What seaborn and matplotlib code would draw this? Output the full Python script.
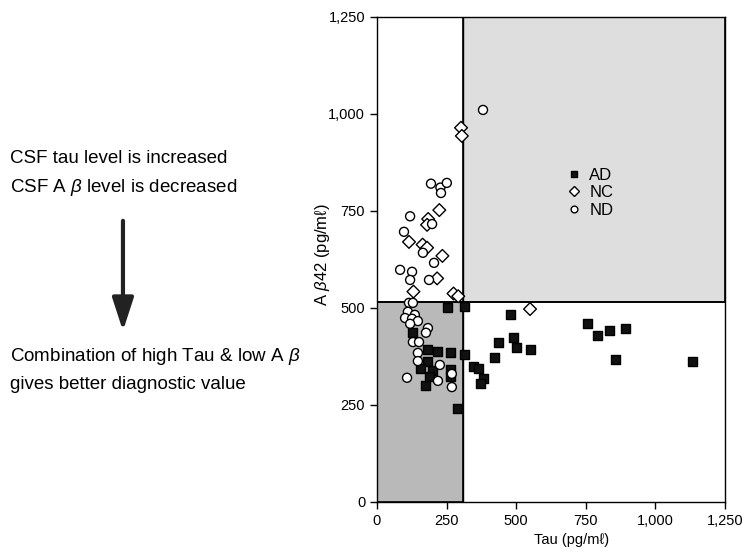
import matplotlib
matplotlib.use("Agg")
import matplotlib.pyplot as plt
from matplotlib.patches import Rectangle
import seaborn as sns
import pandas as pd

# ---- data (Tau pg/ml, Abeta42 pg/ml) ----
ad_tau = [255, 316, 126, 180, 216, 265, 316, 183, 155, 198, 265, 190, 265, 176, 291,
          481, 438, 489, 503, 553, 424, 348, 366, 384, 373, 758, 794, 837, 894, 858, 1135]
ad_ab = [500, 503, 436, 392, 387, 385, 381, 363, 345, 338, 342, 322, 322, 299, 242,
         482, 412, 425, 399, 394, 371, 350, 345, 317, 304, 459, 428, 441, 446, 366, 363]

nc_tau = [302, 305, 224, 184, 180, 115, 164, 180, 235, 216, 131, 275, 292, 550]
nc_ab = [964, 943, 752, 729, 714, 670, 663, 655, 634, 576, 542, 537, 530, 497]

nd_tau = [381, 194, 228, 251, 230, 119, 198, 97, 165, 205, 83, 126, 119, 187,
          115, 129, 111, 136, 101, 126, 147, 119, 183, 176, 129, 151, 147, 147,
          226, 108, 219, 269, 269]
nd_ab = [1010, 820, 810, 822, 796, 736, 716, 696, 642, 616, 598, 593, 572, 572,
         513, 513, 490, 482, 474, 472, 466, 459, 448, 436, 412, 412, 384, 363,
         353, 320, 312, 296, 330]

groups = ["AD", "NC", "ND"]
tau_cut = 310
ab_cut = 515
ticks = [0, 250, 500, 750, 1000, 1250]
tick_labels = ["0", "250", "500", "750", "1,000", "1,250"]

df = pd.DataFrame({
    "tau": ad_tau + nc_tau + nd_tau,
    "ab": ad_ab + nc_ab + nd_ab,
    "group": ["AD"] * len(ad_tau) + ["NC"] * len(nc_tau) + ["ND"] * len(nd_tau),
})

sns.set_style("ticks")
plt.rcParams["font.family"] = ["Liberation Sans", "DejaVu Sans"]
plt.rcParams["mathtext.fontset"] = "custom"
plt.rcParams["mathtext.rm"] = "Liberation Sans"
plt.rcParams["mathtext.it"] = "Liberation Sans:italic"
plt.rcParams["text.color"] = "black"
plt.rcParams["axes.labelcolor"] = "black"

fig = plt.figure(figsize=(7.48, 5.59), dpi=100)
ax = fig.add_axes([0.504, 0.102, 0.465, 0.868])

ax.set_xlim(0, 1250)
ax.set_ylim(0, 1250)

# shaded quadrants
ax.add_patch(Rectangle((0, 0), tau_cut, ab_cut, facecolor="#b9b9b9",
                       edgecolor="black", linewidth=1.2, zorder=0))
ax.add_patch(Rectangle((tau_cut, ab_cut), 1250 - tau_cut, 1250 - ab_cut,
                       facecolor="#dedede", edgecolor="black", linewidth=1.2, zorder=0))
ax.axhline(ab_cut, color="black", linewidth=1.2, zorder=1)
ax.axvline(tau_cut, color="black", linewidth=1.0, zorder=1)

sns.scatterplot(data=df, x="tau", y="ab", hue="group", style="group",
                hue_order=groups, style_order=groups,
                markers={"AD": "s", "NC": "D", "ND": "o"},
                palette={"AD": "#111111", "NC": "white", "ND": "white"},
                edgecolor="black", linewidth=1.0, s=42, ax=ax, zorder=3)

handles, labels = ax.get_legend_handles_labels()
leg = ax.legend(handles=handles, labels=labels, loc="upper left",
                bbox_to_anchor=(0.50, 0.72), frameon=False, fontsize=12,
                handlelength=1.0, handletextpad=0.4, labelspacing=0.15,
                markerscale=0.75)
for t in leg.get_texts():
    t.set_color("black")

ax.set_xticks(ticks)
ax.set_xticklabels(tick_labels)
ax.set_yticks(ticks)
ax.set_yticklabels(tick_labels)
ax.tick_params(direction="out", length=5, width=1, labelsize=10.5, colors="black")
for sp in ax.spines.values():
    sp.set_linewidth(1.0)
    sp.set_color("black")
ax.set_xlabel("Tau (pg/mℓ)", fontsize=10.5)
ax.set_ylabel(r"A $\it{β}$42 (pg/mℓ)", fontsize=12)
ax.xaxis.set_label_coords(0.56, -0.064)
ax.yaxis.set_label_coords(-0.13, 0.51)

# left side annotation text
fs = 13.5
fig.text(0.013, 0.717, "CSF tau level is increased", fontsize=fs, va="center")
fig.text(0.013, 0.665, r"CSF A $\it{β}$ level is decreased", fontsize=fs, va="center")
fig.text(0.013, 0.363, r"Combination of high Tau & low A $\it{β}$", fontsize=fs, va="center")
fig.text(0.013, 0.313, "gives better diagnostic value", fontsize=fs, va="center")
ax.annotate("", xy=(0.1644, 0.408), xycoords="figure fraction",
            xytext=(0.1644, 0.605), textcoords="figure fraction",
            arrowprops=dict(arrowstyle="-|>,head_width=0.65,head_length=2.0",
                            color="#222222", linewidth=3, shrinkA=0, shrinkB=0),
            annotation_clip=False)

fig.savefig("out.png", dpi=100)
